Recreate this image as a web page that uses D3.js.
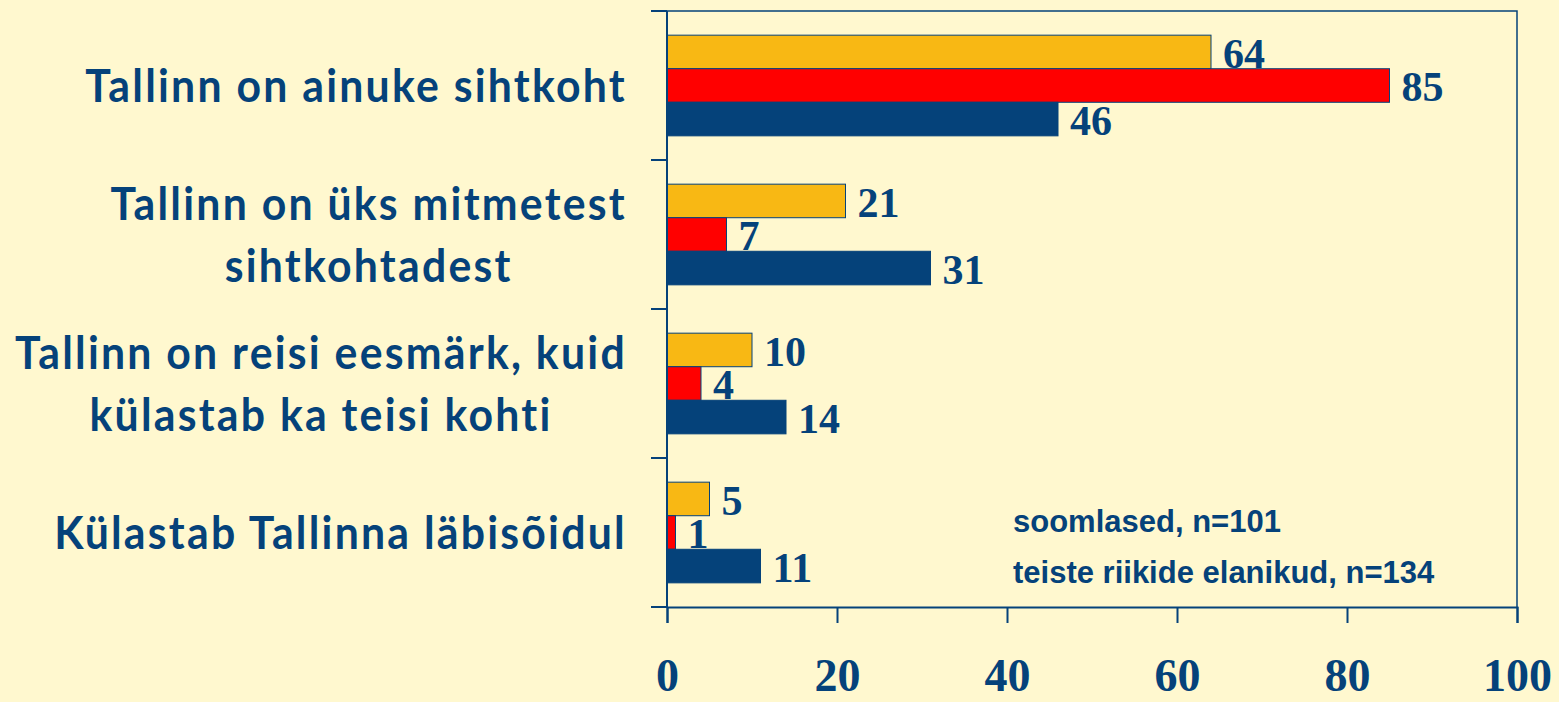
<!DOCTYPE html>
<html>
<head>
<meta charset="utf-8">
<script src="https://cdn.jsdelivr.net/npm/d3@7"></script>
<style>
  html, body { margin: 0; padding: 0; background: #fff8cf; }
  svg { display: block; }
</style>
</head>
<body>
<div class="vis-barchart"></div>
<script>
// categories (multi-line labels) and series values
const categories = [
  ["Tallinn on ainuke sihtkoht"],
  ["Tallinn on üks mitmetest", "sihtkohtadest"],
  ["Tallinn on reisi eesmärk, kuid", "külastab ka teisi kohti"],
  ["Külastab Tallinna läbisõidul"]
];
const seriesA = [64, 21, 10, 5];
const seriesB = [85, 7, 4, 1];
const seriesC = [46, 31, 14, 11];
const xTicks = [0, 20, 40, 60, 80, 100];
const legendLines = ["soomlased, n=101", "teiste riikide elanikud, n=134"];

const navy = "#05427a";
const colors = ["#f8b814", "#ff0000", navy];

const draw = () => {
  const W = 1559, H = 702;
  const margin = { top: 11, right: 42, bottom: 95, left: 667 };
  const width = W - margin.left - margin.right;
  const height = H - margin.top - margin.bottom;

  const svg = d3.select(".vis-barchart").append("svg")
    .attr("width", W).attr("height", H);
  svg.append("rect").attr("width", W).attr("height", H).attr("fill", "#fff8cf");

  const g = svg.append("g")
    .attr("transform", "translate(" + margin.left + "," + margin.top + ")");

  const keys = ["a", "b", "c"];
  const data = categories.map((c, i) => ({
    idx: i, label: c, a: seriesA[i], b: seriesB[i], c: seriesC[i]
  }));

  const x = d3.scaleLinear().domain([0, 100]).range([0, width]);
  const y0 = d3.scaleBand().domain(d3.range(categories.length)).range([0, height]);
  const y1 = d3.scaleBand().domain(keys).range([0, y0.bandwidth()]).paddingOuter(0.72);

  // plot frame (top and right)
  g.append("path")
    .attr("d", "M0,0H" + width + "V" + height)
    .attr("fill", "none").attr("stroke", navy).attr("stroke-width", 1.5);

  // bars
  const groups = g.selectAll(".grp").data(data).enter().append("g")
    .attr("class", "grp")
    .attr("transform", d => "translate(0," + y0(d.idx) + ")");

  keys.forEach((k, ki) => {
    groups.append("rect")
      .attr("x", 0)
      .attr("y", y1(k))
      .attr("width", d => x(d[k]))
      .attr("height", y1.bandwidth())
      .attr("fill", colors[ki])
      .attr("stroke", navy)
      .attr("stroke-width", 1);
    groups.append("text")
      .attr("x", d => x(d[k]) + 12)
      .attr("y", y1(k) + y1.bandwidth() - 1)
      .attr("fill", navy)
      .style("font-family", "'Liberation Serif', 'Times New Roman', serif")
      .style("font-weight", "bold")
      .style("font-size", "42px")
      .text(d => d[k]);
  });

  // y axis line and ticks at band boundaries
  const yTickPos = d3.range(categories.length + 1).map(i => i * y0.step());
  g.append("line").attr("x1", 0).attr("x2", 0).attr("y1", 0).attr("y2", height)
    .attr("stroke", navy).attr("stroke-width", 2);
  g.selectAll(".ytick").data(yTickPos).enter().append("line")
    .attr("x1", -16).attr("x2", 0).attr("y1", d => d).attr("y2", d => d)
    .attr("stroke", navy).attr("stroke-width", 2);

  // x axis
  const xAxis = g.append("g")
    .attr("transform", "translate(0," + height + ")")
    .call(d3.axisBottom(x).tickValues(xTicks).tickSize(16).tickPadding(68));
  xAxis.select(".domain").attr("stroke", navy).attr("stroke-width", 2);
  xAxis.selectAll(".tick line").attr("stroke", navy).attr("stroke-width", 2);
  xAxis.selectAll(".tick text")
    .attr("fill", navy)
    .attr("dy", "0")
    .style("font-family", "'Liberation Serif', 'Times New Roman', serif")
    .style("font-weight", "bold")
    .style("font-size", "46px");

  // category labels, lines centred on each other, block right-aligned
  const labelRight = 627 - margin.left;
  const sx = 0.93;
  data.forEach(d => {
    const cy = y0(d.idx) + y0.bandwidth() / 2;
    const lg = g.append("g");
    const n = d.label.length;
    d.label.forEach((line, li) => {
      lg.append("text")
        .attr("x", 0)
        .attr("y", 16.5 + (li - (n - 1) / 2) * 62)
        .attr("text-anchor", "middle")
        .attr("fill", navy)
        .style("font-family", "Lato, 'Open Sans', sans-serif")
        .style("font-weight", "bold")
        .style("font-size", "46px")
        .style("letter-spacing", "2.4px")
        .text(line);
    });
    const w = lg.node().getBBox().width;
    lg.attr("transform", "translate(" + (labelRight - (w * sx) / 2) + "," + cy + ") scale(" + sx + ",1)");
  });

  // legend text
  g.selectAll(".legend").data(legendLines).enter().append("text")
    .attr("x", 1013 - margin.left)
    .attr("y", (d, i) => 521 + i * 51)
    .attr("fill", navy)
    .style("font-family", "'Liberation Sans', Arial, sans-serif")
    .style("font-weight", "bold")
    .style("font-size", "31px")
    .text(d => d);
};

draw();
</script>
</body>
</html>
